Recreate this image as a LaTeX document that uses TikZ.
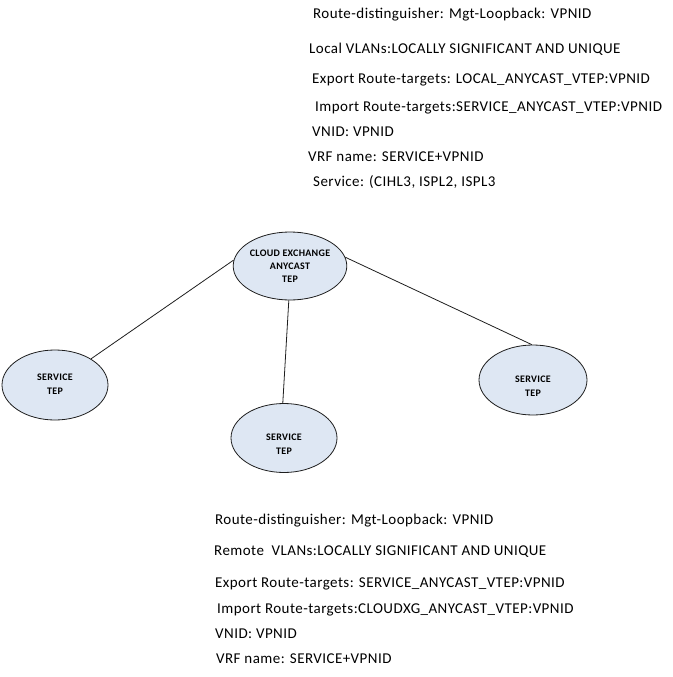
\documentclass[tikz,border=0pt]{standalone}
\usepackage{fontspec}
\setmainfont{Carlito}
\newfontfamily\infofont[LetterSpace=3]{Carlito}
\usetikzlibrary{shapes.geometric}
\definecolor{tepfill}{RGB}{222,231,243}
\definecolor{lineclr}{RGB}{30,30,30}
\tikzset{
  tep/.style={ellipse, draw=lineclr, line width=0.8pt, fill=tepfill, inner sep=0pt,
    align=center, font=\infofont\fontsize{10}{13}\selectfont\bfseries},
  svc/.style={tep, font=\infofont\fontsize{10}{14}\selectfont\bfseries},
  info/.style={anchor=base west, inner sep=0pt, font=\infofont\fontsize{15}{17}\selectfont},
  link/.style={draw=lineclr, line width=0.8pt}
}
\begin{document}
\begin{tikzpicture}[x=1pt,y=-1pt]
\useasboundingbox (0,0) rectangle (672,677);
% top text
\node[info] (t1) at (313,19) {Route-distinguisher: Mgt-Loopback: VPNID};
\node[info] (t2) at (309,53) {Local VLANs:LOCALLY SIGNIFICANT AND UNIQUE};
\node[info] (t3) at (312,84) {Export Route-targets: LOCAL\_ANYCAST\_VTEP:VPNID};
\node[info] (t4) at (315,111) {Import Route-targets:SERVICE\_ANYCAST\_VTEP:VPNID};
\node[info] (t5) at (312,136) {VNID: VPNID};
\node[info] (t6) at (308,161) {VRF name: SERVICE+VPNID};
\node[info] (t7) at (313,186) {Service: (CIHL3, ISPL2, ISPL3};
% ellipses
\node[tep, minimum width=110pt, minimum height=68pt] (cloud) at (290,266) {CLOUD EXCHANGE\\ANYCAST\\TEP};
\node[svc, minimum width=106pt, minimum height=70pt] (left) at (55,385) {\\[-10pt]SERVICE\\TEP};
\node[svc, minimum width=106pt, minimum height=69pt] (mid) at (284,438) {\\[4pt]SERVICE\\TEP};
\node[svc, minimum width=108pt, minimum height=70pt] (right) at (533,380) {\\[5pt]SERVICE\\TEP};
% links
\draw[link] (cloud.174) -- (left.36);
\draw[link] (cloud.268) -- (mid.92);
\draw[link] (cloud.9) -- (right.92);
% bottom text
\node[info] (b1) at (215,524) {Route-distinguisher: Mgt-Loopback: VPNID};
\node[info] (b2) at (214,555) {Remote\ \ VLANs:LOCALLY SIGNIFICANT AND UNIQUE};
\node[info] (b3) at (215,587) {Export Route-targets: SERVICE\_ANYCAST\_VTEP:VPNID};
\node[info] (b4) at (217,613) {Import Route-targets:CLOUDXG\_ANYCAST\_VTEP:VPNID};
\node[info] (b5) at (215,638) {VNID: VPNID};
\node[info] (b6) at (216,663) {VRF name: SERVICE+VPNID};
\end{tikzpicture}
\end{document}
